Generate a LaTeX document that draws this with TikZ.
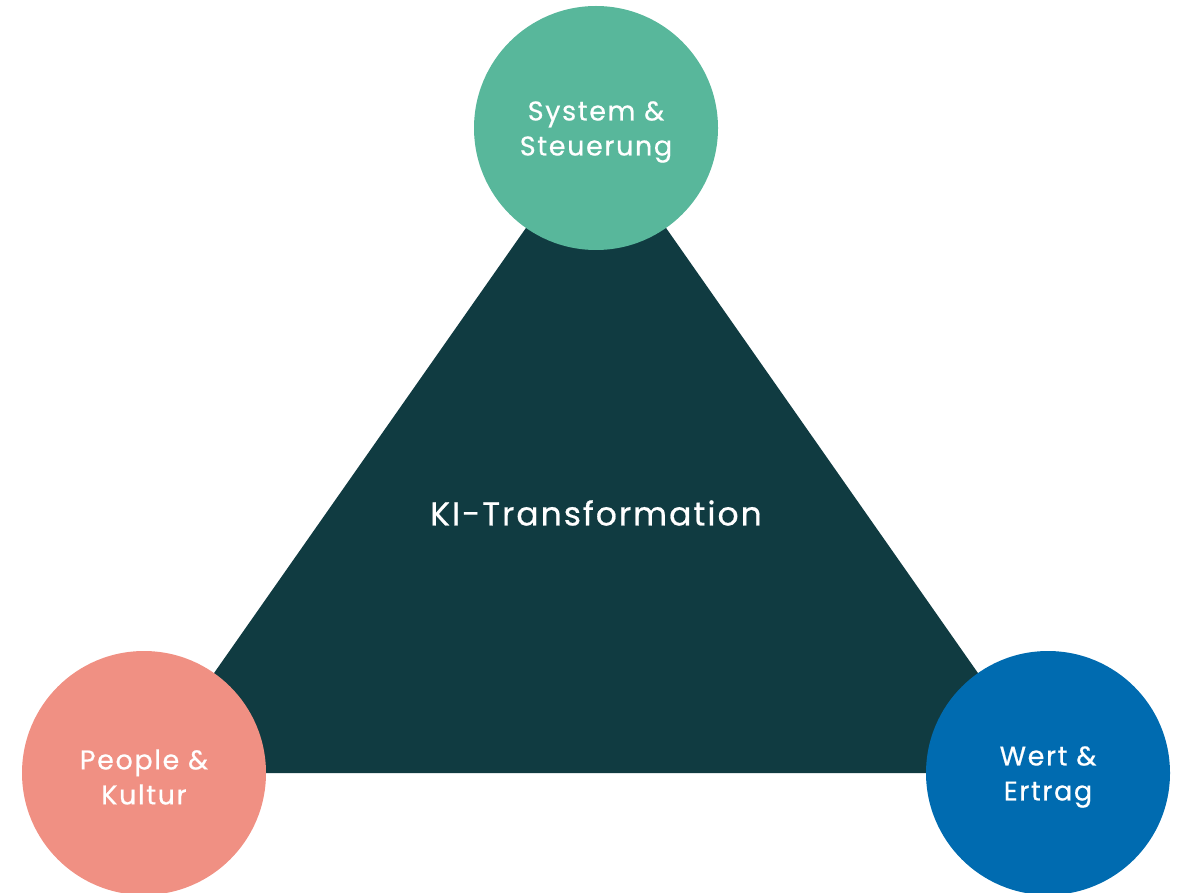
\documentclass[tikz,border=0pt]{standalone}
\usepackage{fontspec}
\setmainfont{Poppins}
\newfontfamily\schrift{Poppins}[LetterSpace=6, FakeBold=0.6]
\usepackage{tikz}
\definecolor{dunkel}{HTML}{103B41}
\definecolor{gruen}{HTML}{58B79B}
\definecolor{lachs}{HTML}{F09083}
\definecolor{blau}{HTML}{006BB0}
\tikzset{
  kreis/.style={circle, minimum size=244pt, inner sep=0pt},
  kreistext/.style={text=white, align=center, yshift=-4pt,
    font=\schrift\fontsize{27}{35}\selectfont}
}
\begin{document}
\begin{tikzpicture}[x=1pt,y=-1pt]
        \useasboundingbox (0,0) rectangle (1177,893);
        % Ecken des Dreiecks
        \coordinate (s) at (596,128);
        \coordinate (p) at (144,773);
        \coordinate (w) at (1048,773);
        \fill[dunkel] (s) -- (w) -- (p) -- cycle;
        \node[text=white, font=\schrift\fontsize{33}{38}\selectfont] (ki) at (596,513) {KI-Transformation};
        \node[kreis, fill=gruen, label={[kreistext]center:System \&\\Steuerung}] (sys) at (s) {};
        \node[kreis, fill=lachs, label={[kreistext]center:People \&\\Kultur}] (people) at (p) {};
        \node[kreis, fill=blau, label={[kreistext]center:Wert \&\\Ertrag}] (wert) at (w) {};
    \end{tikzpicture}
\end{document}
